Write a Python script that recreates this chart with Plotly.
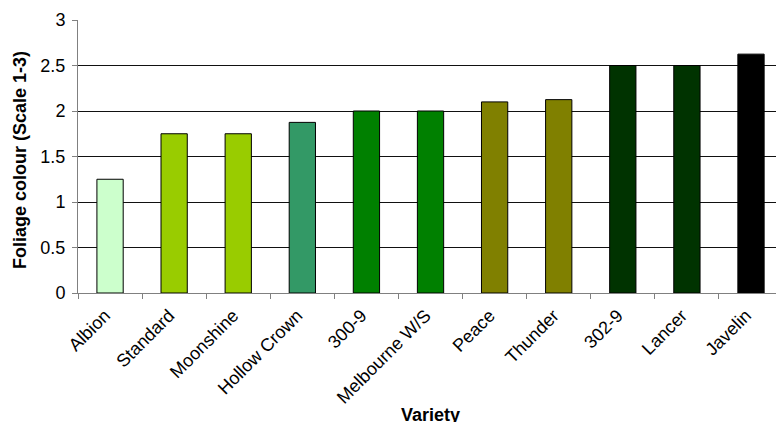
import plotly.graph_objects as go

varieties = ["Albion", "Standard", "Moonshine", "Hollow Crown", "300-9", "Melbourne W/S",
             "Peace", "Thunder", "302-9", "Lancer", "Javelin"]
foliage = [1.25, 1.75, 1.75, 1.875, 2.0, 2.0, 2.1, 2.125, 2.5, 2.5, 2.625]
colors = ["#CCFFCC", "#99CC00", "#99CC00", "#339966", "#008000", "#008000",
          "#808000", "#808000", "#003300", "#003300", "#000000"]

W, H = 776, 422
ML, MR, MT, MB = 78, 0, 20, 129
pw, ph = W - ML - MR, H - MT - MB

fig = go.Figure(go.Bar(
    x=varieties, y=foliage, width=0.41,
    marker=dict(color=colors, line=dict(color="black", width=1)),
))

fig.update_layout(
    width=W, height=H,
    margin=dict(l=ML, r=MR, t=MT, b=MB),
    plot_bgcolor="white", paper_bgcolor="white",
    font=dict(family="Liberation Sans, Arial, sans-serif", size=18, color="black"),
    showlegend=False,
)
fig.update_xaxes(
    range=[-0.5, 10.39], tickangle=-45,
    ticks="outside", tickson="boundaries", ticklen=5, tickcolor="#808080",
    showline=True, linecolor="#808080", linewidth=1,
    tickfont=dict(size=18), ticklabelshift=-5, ticklabelstandoff=4,
)
fig.update_yaxes(
    range=[0, 3], dtick=0.5,
    ticks="outside", ticklen=5, tickcolor="#808080",
    showline=True, linecolor="#808080", linewidth=1,
    showgrid=True, gridcolor="#111111", gridwidth=1,
    tickfont=dict(size=18), ticklabelstandoff=3,
    zeroline=False,
)
fig.add_annotation(
    text="<b>Variety</b>", xref="paper", yref="paper",
    x=(430 - ML) / pw, y=(MT + ph - 415) / ph,
    xanchor="center", yanchor="middle", showarrow=False,
    font=dict(size=18),
)
fig.add_annotation(
    text="<b>Foliage colour (Scale 1-3)</b>", xref="paper", yref="paper",
    x=(20 - ML) / pw, y=(MT + ph - 160) / ph, textangle=-90,
    xanchor="center", yanchor="middle", showarrow=False,
    font=dict(size=18),
)

fig.write_html("out.html")
